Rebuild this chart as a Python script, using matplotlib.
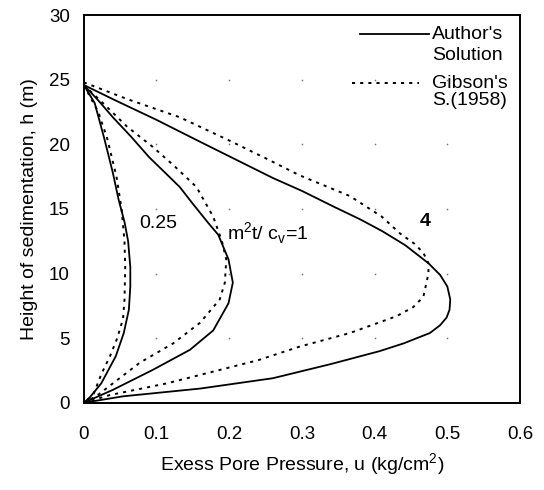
import numpy as np
import matplotlib.pyplot as plt

plt.rcParams['font.family'] = ['Liberation Sans', 'DejaVu Sans']
plt.rcParams['mathtext.fontset'] = 'custom'
plt.rcParams['mathtext.rm'] = 'Liberation Sans'

# author's solution, u (kg/cm2) against h (m)
a025_u = [0, 0.015, 0.028, 0.040, 0.048, 0.056, 0.061, 0.064, 0.064, 0.062, 0.055, 0.044, 0.024, 0.008, 0]
a025_h = [24.6, 23.2, 20.5, 17.8, 15.7, 14.0, 12.5, 10.5, 9.0, 7.2, 5.4, 3.6, 1.5, 0.4, 0]

a1_u = [0, 0.020, 0.040, 0.065, 0.090, 0.112, 0.132, 0.150, 0.170, 0.185, 0.199, 0.205, 0.199, 0.178, 0.146, 0.095, 0.040, 0]
a1_h = [24.6, 23.4, 22.1, 20.6, 19.0, 17.8, 16.7, 15.4, 14.0, 13.0, 11.1, 9.3, 7.7, 5.6, 4.1, 2.55, 1.0, 0]

a4_u = [0, 0.040, 0.100, 0.160, 0.210, 0.260, 0.300, 0.343, 0.380, 0.410, 0.442, 0.474, 0.490, 0.500, 0.504,
        0.503, 0.499, 0.490, 0.476, 0.458, 0.440, 0.407, 0.340, 0.260, 0.160, 0.054, 0]
a4_h = [24.6, 23.5, 21.9, 20.2, 18.8, 17.4, 16.4, 15.2, 14.2, 13.3, 12.2, 10.8, 9.9, 9.0, 8.0,
        7.2, 6.6, 6.0, 5.4, 5.0, 4.6, 4.0, 3.0, 1.9, 1.1, 0.5, 0]

# Gibson (1958)
g025_u = [0, 0.020, 0.032, 0.045, 0.052, 0.056, 0.057, 0.056, 0.054, 0.046, 0.036, 0.024, 0.013, 0]
g025_h = [24.6, 22.5, 20.5, 17.5, 15.0, 12.5, 10.5, 8.0, 6.5, 5.0, 3.6, 2.2, 0.6, 0]

g1_u = [0, 0.030, 0.059, 0.095, 0.125, 0.155, 0.178, 0.190, 0.196, 0.194, 0.187, 0.160, 0.123, 0.077, 0.040, 0.017, 0]
g1_h = [24.6, 23.0, 21.4, 19.8, 18.3, 16.7, 14.4, 12.5, 11.1, 9.3, 8.0, 6.2, 4.6, 3.1, 1.5, 0.5, 0]

g4_u = [0, 0.060, 0.132, 0.200, 0.251, 0.297, 0.366, 0.410, 0.435, 0.455, 0.467, 0.474, 0.474, 0.467, 0.453,
        0.430, 0.366, 0.297, 0.240, 0.170, 0.114, 0.036, 0]
g4_h = [24.8, 23.5, 22.1, 20.3, 18.9, 17.6, 16.0, 14.4, 13.1, 12.3, 11.6, 10.8, 10.0, 8.2, 7.4,
        6.7, 5.4, 4.35, 3.3, 2.3, 1.5, 0.6, 0]

xticks = [0, 0.1, 0.2, 0.3, 0.4, 0.5, 0.6]
yticks = [0, 5, 10, 15, 20, 25, 30]

fig = plt.figure(figsize=(5.44, 4.9), dpi=100)
ax = fig.add_axes([0.154, 0.178, 0.802, 0.791])

# faint dots where the grid lines would cross
gx, gy = np.meshgrid(xticks[1:-1], yticks[1:-1])
ax.plot(gx.ravel(), gy.ravel(), ls='none', marker='o', ms=1.2, color='#777777', mec='none')

solid = dict(color='black', lw=1.3)
dotted = dict(color='black', lw=1.4, dashes=(1.6, 2.6))

for u, h in [(a025_u, a025_h), (a1_u, a1_h), (a4_u, a4_h)]:
    ax.plot(u, h, **solid)
for u, h in [(g025_u, g025_h), (g1_u, g1_h), (g4_u, g4_h)]:
    ax.plot(u, h, **dotted)

ax.text(0.102, 13.9, '0.25', fontsize=14, va='center', ha='center')
ax.text(0.197, 13.1, r'm$^2$t/ c$_\mathrm{v}$=1', fontsize=14, va='center', ha='left')
ax.text(0.469, 14.0, '4', fontsize=14, fontweight='bold', va='center', ha='center')

# legend drawn by hand in axes fraction
ax.plot([0.633, 0.791], [0.951, 0.951], transform=ax.transAxes, **solid)
ax.text(0.798, 0.951, "Author's", transform=ax.transAxes, fontsize=14, va='center')
ax.text(0.798, 0.895, "Solution", transform=ax.transAxes, fontsize=14, va='center')
ax.plot([0.615, 0.768], [0.825, 0.825], transform=ax.transAxes, **dotted)
ax.text(0.798, 0.825, "Gibson's", transform=ax.transAxes, fontsize=14, va='center')
ax.text(0.798, 0.780, "S.(1958)", transform=ax.transAxes, fontsize=14, va='center')

ax.set_xlim(0, 0.6)
ax.set_ylim(0, 30)
ax.set_xticks(xticks)
ax.set_xticklabels(['0', '0.1', '0.2', '0.3', '0.4', '0.5', '0.6'])
ax.set_yticks(yticks)
ax.tick_params(length=0, labelsize=13.5)
ax.tick_params(axis='x', pad=17)
ax.tick_params(axis='y', pad=10)
for s in ax.spines.values():
    s.set_linewidth(1.4)

ax.set_xlabel('Exess Pore Pressure, u (kg/cm$^2$)', fontsize=14, labelpad=6)
ax.set_ylabel('Height of sedimentation, h (m)', fontsize=14, labelpad=8)

fig.savefig('out.png', dpi=100)
